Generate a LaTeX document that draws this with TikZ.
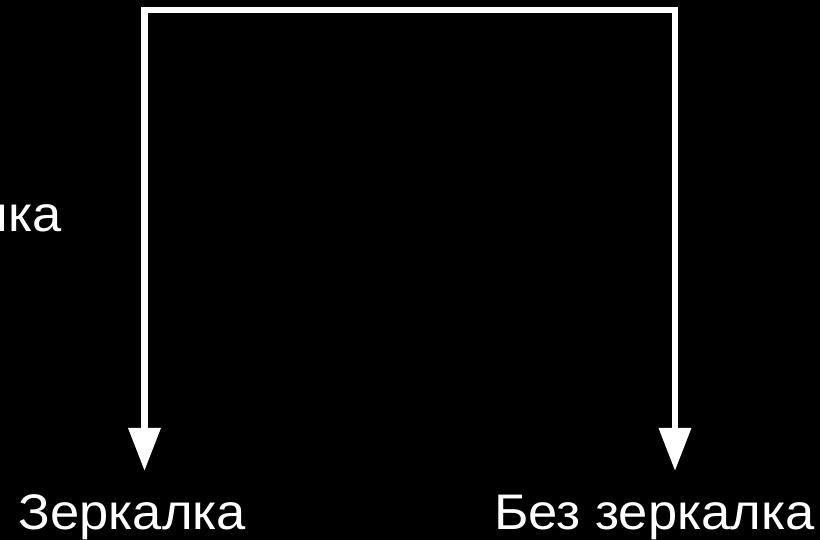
\documentclass[tikz,border=0pt]{standalone}
\usepackage{fontspec}
\setmainfont{Liberation Sans}
\newfontfamily\labfont[FakeStretch=1.05]{Liberation Sans}
\usetikzlibrary{arrows.meta}
\begin{document}
\begin{tikzpicture}[x=1pt,y=1pt,
  label/.style={text=white,inner sep=0pt,font=\labfont\fontsize{50}{60}\selectfont},
  conn/.style={draw=white,line width=6.5pt,line join=miter,-{Triangle[length=43pt,width=31pt]}}]
\fill[black] (0,0) rectangle (820,540);
\useasboundingbox (0,0) rectangle (820,540);
\begin{scope}
\clip (0,0) rectangle (820,540);
\node[label,anchor=base east] (lt) at (62,308) {лка};
\end{scope}
\node[label,anchor=base] (zk) at (132.5,10) {Зеркалка};
\node[label,anchor=base] (bz) at (654.5,10) {Без зеркалка};
\coordinate (top) at (470,530);
\coordinate (za) at (144.5,69);
\coordinate (ba) at (675,69);
\draw[conn] (top) -| (za);
\draw[conn] (top) -| (ba);
\end{tikzpicture}
\end{document}
